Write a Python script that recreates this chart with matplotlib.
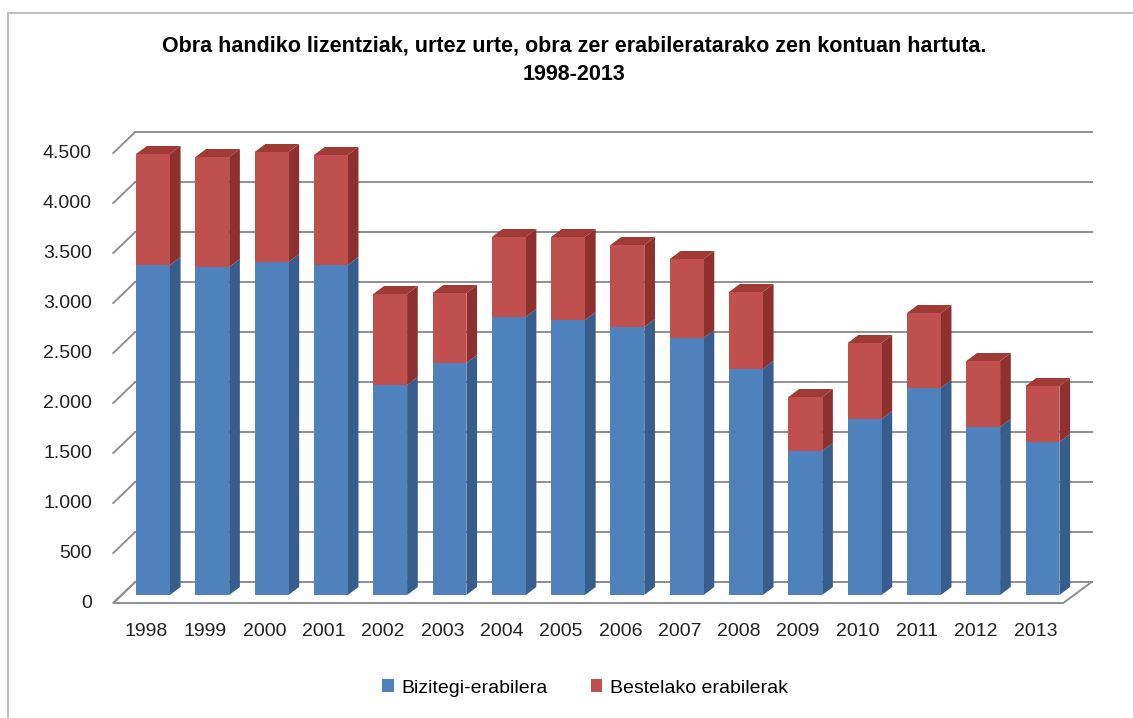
import numpy as np
import matplotlib
matplotlib.use('Agg')
import matplotlib.pyplot as plt
from matplotlib.patches import Polygon
from matplotlib.lines import Line2D

plt.rcParams['font.family'] = ['Liberation Sans', 'DejaVu Sans']

years = ['1998', '1999', '2000', '2001', '2002', '2003', '2004', '2005',
         '2006', '2007', '2008', '2009', '2010', '2011', '2012', '2013']
bizitegi = [3300, 3280, 3330, 3300, 2100, 2320, 2780, 2750,
            2680, 2570, 2260, 1440, 1760, 2070, 1680, 1530]
totala = [4410, 4380, 4430, 4400, 3010, 3020, 3580, 3580,
          3500, 3360, 3030, 1980, 2520, 2820, 2340, 2090]
bestelako = [t - b for t, b in zip(totala, bizitegi)]
yticks = [0, 500, 1000, 1500, 2000, 2500, 3000, 3500, 4000, 4500]
title = 'Obra handiko lizentziak, urtez urte, obra zer erabileratarako zen kontuan hartuta.\n1998-2013'
series_names = ['Bizitegi-erabilera', 'Bestelako erabilerak']

blue, blue_side = '#4F81BD', '#375D8C'
red, red_side, red_top = '#C0504D', '#8E302E', '#A03A37'
grid_col = '#8F8F8F'

# pseudo-3D geometry (data units)
W = 0.57            # bar width
bdx, bdy = 0.18, 80  # bar depth offset
front_y = -80        # floor front edge relative to values
back_y = 130         # back wall offset
fl_l, fl_r = -0.67, 15.35
bk_l, bk_r = -0.30, 15.83

fig = plt.figure(figsize=(11.33, 7.18), dpi=100)
ax = fig.add_axes([0, 0, 1, 1])
ax.set_xlim(-153 / 59.3, (1133 - 153) / 59.3)
ax.set_ylim(-1230, 5950)
ax.axis('off')

x = np.arange(len(years))

# floor
ax.add_patch(Polygon([(fl_l, front_y), (fl_r, front_y), (bk_r, back_y), (bk_l, back_y)],
                     closed=True, facecolor='white', edgecolor=grid_col, lw=1.4, zorder=1))
# back wall gridlines + left wall diagonals
for v in yticks:
    ax.plot([bk_l, bk_r], [v + back_y, v + back_y], color=grid_col, lw=1.4, zorder=1)
    ax.plot([fl_l, bk_l], [v + front_y, v + back_y], color=grid_col, lw=1.4, zorder=1)
    ax.text(-1.03, v + front_y, f'{v:,}'.replace(',', '.'), ha='right', va='center',
            fontsize=14, color='#222222')

# bars (front faces)
b1 = ax.bar(x, bizitegi, width=W, color=blue, zorder=3, label=series_names[0])
b2 = ax.bar(x, bestelako, width=W, bottom=bizitegi, color=red, zorder=3, label=series_names[1])

# side and top faces computed from the data
for xi, b, t in zip(x, bizitegi, totala):
    r = xi + W / 2
    ax.add_patch(Polygon([(r, 0), (r + bdx, bdy), (r + bdx, b + bdy), (r, b)],
                         closed=True, facecolor=blue_side, lw=0, zorder=2))
    ax.add_patch(Polygon([(r, b), (r + bdx, b + bdy), (r + bdx, t + bdy), (r, t)],
                         closed=True, facecolor=red_side, lw=0, zorder=2))
    ax.add_patch(Polygon([(xi - W / 2, t), (r, t), (r + bdx, t + bdy), (xi - W / 2 + bdx, t + bdy)],
                         closed=True, facecolor=red_top, lw=0, zorder=2))

for xi, yr in zip(x, years):
    ax.text(xi - 0.12, -370, yr, ha='center', va='center', fontsize=14, color='#222222')

fig.text(574 / 1133, 1 - 46 / 718, title.split('\n')[0], ha='center', va='center',
         fontsize=15.5, fontweight='bold')
fig.text(574 / 1133, 1 - 75 / 718, title.split('\n')[1], ha='center', va='center',
         fontsize=15.5, fontweight='bold')

fig.legend(handles=[b1, b2], labels=series_names, loc='center',
           bbox_to_anchor=(585 / 1133, 1 - 688 / 718), ncol=2, frameon=False,
           fontsize=14, handlelength=0.6, handleheight=0.6, handletextpad=0.4,
           columnspacing=2.2)

# outer chart frame
fig.add_artist(Line2D([8 / 1133, 8 / 1133], [0, 1 - 13 / 718], transform=fig.transFigure,
                      color='#BFBFBF', lw=1.5))
fig.add_artist(Line2D([8 / 1133, 1], [1 - 13 / 718, 1 - 13 / 718], transform=fig.transFigure,
                      color='#BFBFBF', lw=1.5))

fig.savefig('out.png', dpi=100)
